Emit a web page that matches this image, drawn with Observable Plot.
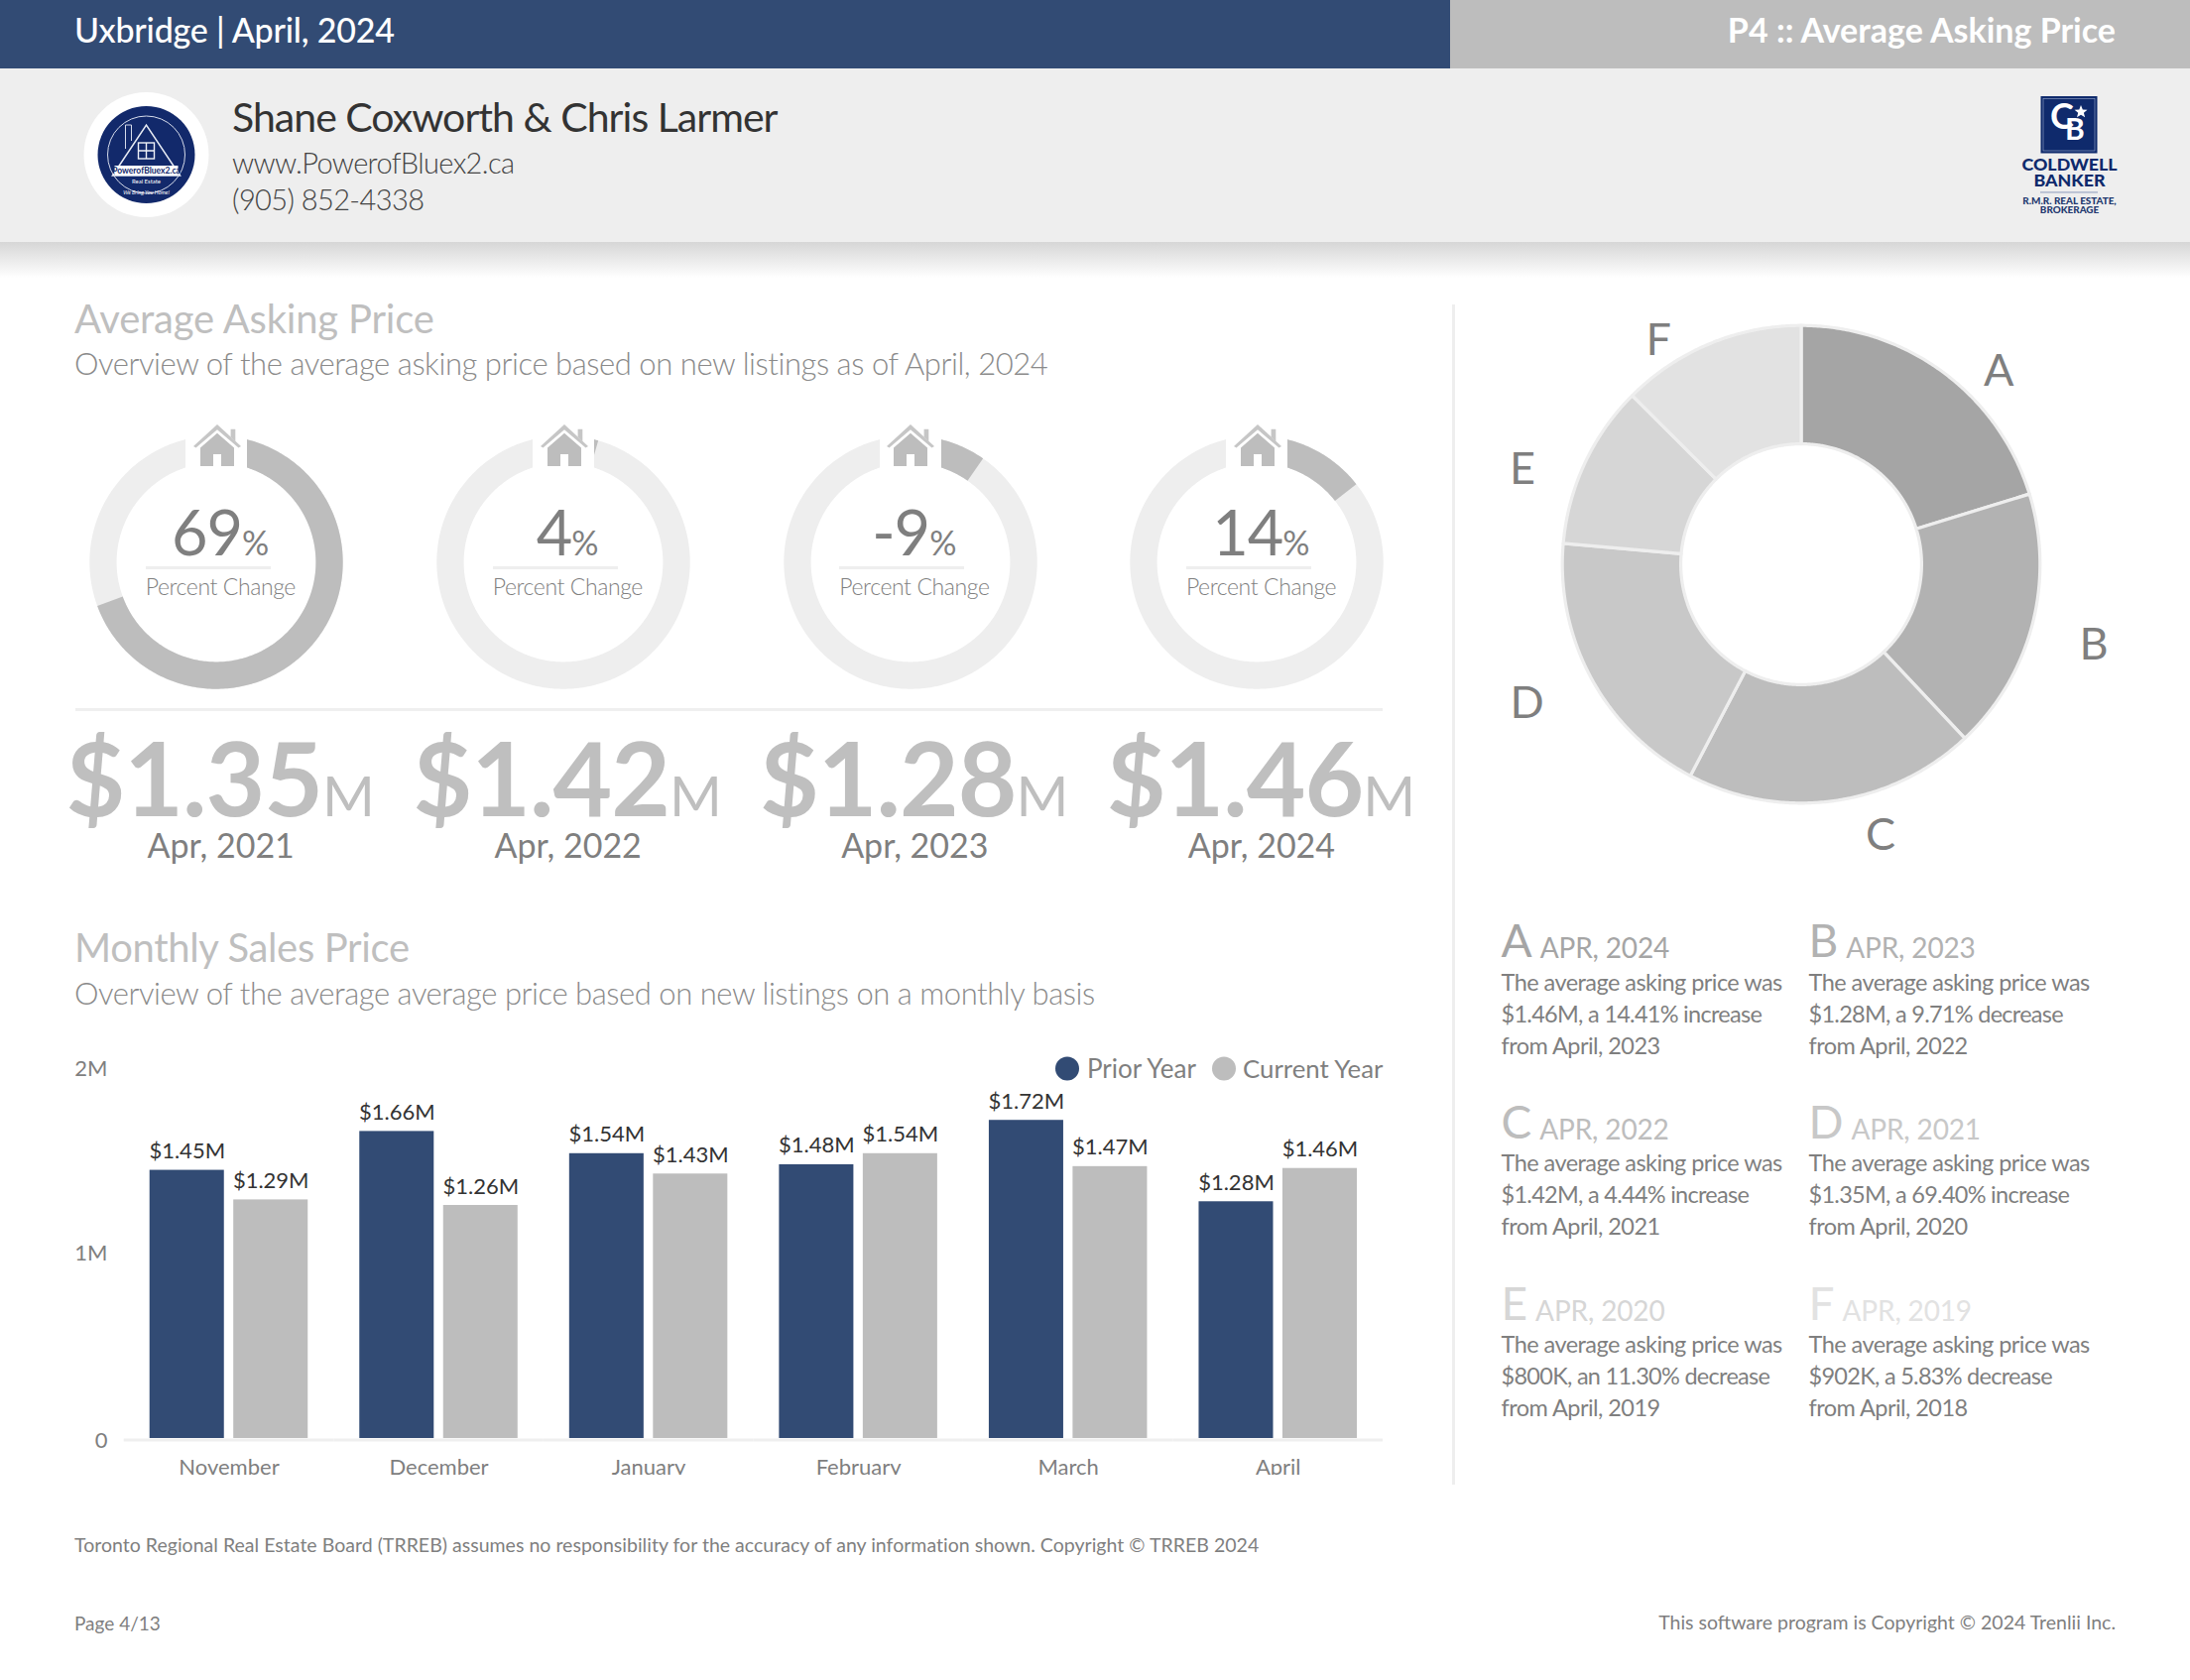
<!DOCTYPE html>
<html>
<head>
<meta charset="utf-8">
<script src="https://cdn.jsdelivr.net/npm/d3@7"></script>
<script src="https://cdn.jsdelivr.net/npm/@observablehq/plot@0.6"></script>
<style>
html,body{margin:0;padding:0;background:#fff;width:2208px;height:1694px;overflow:hidden}
#page{position:relative;width:2208px;height:1694px;overflow:hidden;font-family:Lato,sans-serif;color:#7f7f7f}
.t{position:absolute;line-height:0;white-space:nowrap}
.box{position:absolute}
.plotwrap{position:absolute}
.plotwrap svg{background:transparent;display:block;font-family:Lato,sans-serif}
</style>
</head>
<body>
<div id="page"></div>
<script>
// ---- data ----
const months = ["November","December","January","February","March","April"];
const priorYear = [1.45,1.66,1.54,1.48,1.72,1.28];
const currentYear = [1.29,1.26,1.43,1.54,1.47,1.46];
const seriesNames = ["Prior Year","Current Year"];
const seriesColors = ["#324b74","#bdbdbd"];

const ringChange = [69.40,4.44,9.71,14.41];
const ringPercentLabels = ["69","4","-9","14"];
const ringPrices = ["$1.35","$1.42","$1.28","$1.46"];
const ringDates = ["Apr, 2021","Apr, 2022","Apr, 2023","Apr, 2024"];

const pieLetters = ["A","B","C","D","E","F"];
const pieValues = [1.46,1.28,1.42,1.35,0.80,0.902];
const pieColors = ["#a5a5a5","#b2b2b2","#bdbdbd","#c8c8c8","#d6d6d6","#e2e2e2"];
const pieDates = ["APR, 2024","APR, 2023","APR, 2022","APR, 2021","APR, 2020","APR, 2019"];
const pieLine2 = ["$1.46M, a 14.41% increase","$1.28M, a 9.71% decrease","$1.42M, a 4.44% increase","$1.35M, a 69.40% increase","$800K, an 11.30% decrease","$902K, a 5.83% decrease"];
const pieLine3 = ["from April, 2023","from April, 2022","from April, 2021","from April, 2020","from April, 2019","from April, 2018"];

// ---- helpers ----
const page = document.getElementById("page");
function txt(html,x,base,size,color,opts={}){
  const d=document.createElement("div");
  d.className="t";
  d.innerHTML=html;
  d.style.fontSize=size+"px";
  d.style.color=color;
  d.style.top=(base-0.387*size)+"px";
  if(opts.weight)d.style.fontWeight=opts.weight;
  if(opts.ls!=null)d.style.letterSpacing=opts.ls+"px";
  if(opts.anchor==="end"){d.style.right=(2208-x)+"px";}
  else if(opts.anchor==="middle"){d.style.left=x+"px";d.style.transform="translateX(-50%)";}
  else d.style.left=x+"px";
  page.appendChild(d);
  return d;
}
function box(x,y,w,h,bg){
  const d=document.createElement("div");
  d.className="box";
  d.style.cssText+=`left:${x}px;top:${y}px;width:${w}px;height:${h}px;background:${bg}`;
  page.appendChild(d);
  return d;
}
function place(node,x,y){
  const w=document.createElement("div");
  w.className="plotwrap";
  w.style.left=x+"px";w.style.top=y+"px";
  w.appendChild(node);
  page.appendChild(w);
}
function arcRows(key,f0,f1,r0,r1,step){
  const rows=[];
  const n=Math.max(2,Math.ceil((f1-f0)*360/step));
  for(let i=0;i<=n;i++){
    const a=(f0+(f1-f0)*i/n)*2*Math.PI;
    rows.push({key,x1:r0*Math.sin(a),y1:r0*Math.cos(a),x2:r1*Math.sin(a),y2:r1*Math.cos(a)});
  }
  return rows;
}

// ---- header ----
box(0,0,1462,68.5,"#324b74");
box(1462,0,746,68.5,"#bdbdbd");
box(0,68.5,2208,175,"#eeeeee");
const sh=box(0,243.5,2208,36,"#fff");
sh.style.background="linear-gradient(#d6d6d6,#ffffff)";
txt("Uxbridge | April, 2024",75,43,34,"#fff",{weight:500,ls:-0.2});
txt("P4 :: Average Asking Price",2133,43,34,"#fff",{weight:700,anchor:"end"});
txt("Shane Coxworth &amp; Chris Larmer",234,134,41,"#333",{ls:-0.97});
txt("www.PowerofBluex2.ca",234,175,29,"#444",{weight:300,ls:-0.63});
txt("(905) 852-4338",234,212,29,"#444",{weight:300,ls:-0.6});

const logos=document.createElement("div");
logos.innerHTML=`
<svg class="box" style="left:80px;top:90px" width="135" height="135" viewBox="-67.5 -66 135 135">
 <circle r="63" fill="#fff"/>
 <circle r="49" fill="#12296b"/>
 <circle r="39" fill="none" stroke="#d5dbea" stroke-width="1"/>
 <path d="M-34 21 L0 -30 L34 21 Z" fill="#12296b" stroke="#e8ecf4" stroke-width="1.5"/>
 <path d="M-21 -6 V-30 H-15 V-14" fill="none" stroke="#d5dbea" stroke-width="1"/>
 <g stroke="#eef1f7" stroke-width="1.4" fill="none"><rect x="-8" y="-12" width="16" height="16"/><path d="M0 -12V4M-8 -4H8"/></g>
 <rect x="-32" y="11" width="64" height="10" fill="#fff"/>
 <text y="19" text-anchor="middle" font-size="8.5" font-weight="700" fill="#12296b">PowerofBluex2.ca</text>
 <text y="29" text-anchor="middle" font-size="6" fill="#fff">Real Estate</text>
 <text y="40" text-anchor="middle" font-size="5.5" font-style="italic" fill="#fff">We Bring You Home!</text>
</svg>
<svg class="box" style="left:2030px;top:90px" width="115" height="130" viewBox="2030 90 115 130" font-family="Lato" text-anchor="middle">
 <rect x="2057.5" y="97" width="57" height="57.5" fill="#0f2a6c"/>
 <rect x="2060" y="99.5" width="52" height="52.5" fill="none" stroke="#8a9bc1" stroke-width="0.7"/>
 <text x="2079" y="130" font-size="36" font-weight="700" fill="#fff">C</text>
 <text x="2092" y="141" font-size="30" font-weight="700" fill="#fff">B</text>
 <path d="M2098 106l1.8 4.4 4.7.3-3.6 3 1.2 4.6-4.1-2.5-4 2.5 1.2-4.6-3.6-3 4.7-.3z" fill="#fff"/>
 <text x="2086.5" y="172" font-size="17.8" font-weight="900" fill="#0f2a6c">COLDWELL</text>
 <text x="2086.5" y="188" font-size="17.8" font-weight="900" fill="#0f2a6c">BANKER</text>
 <rect x="2057" y="193.5" width="58" height="0.9" fill="#7f8fb5"/>
 <text x="2086.5" y="205.5" font-size="9.9" font-weight="900" fill="#23396f">R.M.R. REAL ESTATE,</text>
 <text x="2086.5" y="214.5" font-size="9.9" font-weight="900" fill="#23396f">BROKERAGE</text>
</svg>`;
while(logos.firstChild)page.appendChild(logos.firstChild);

// ---- section headings ----
txt("Average Asking Price",75,336.5,40,"#bfbfbf",{ls:-0.2});
txt("Overview of the average asking price based on new listings as of April, 2024",75,378,31,"#8a8a8a",{weight:300,ls:-0.44});
txt("Monthly Sales Price",75,970.5,40,"#bfbfbf",{ls:-0.35});
txt("Overview of the average average price based on new listings on a monthly basis",75,1013,31,"#8a8a8a",{weight:300,ls:-0.45});
box(1463.5,307,3,1190,"#eeeeee");
box(75.5,713.5,1318.5,3,"#efefef");

// ---- ring gauges ----
const ringX=[218.2,568.2,917.8,1267.4];
const ringCY=567, ringOuter=127.7, ringInner=100.4;
ringChange.forEach((v,i)=>{
  const half=140;
  const dom=half/ringOuter;
  const track=arcRows("track",0,1,ringInner/ringOuter,1,1);
  const prog=arcRows("value",0,v/100,ringInner/ringOuter,1,1);
  const p=Plot.plot({
    width:half*2,height:half*2,margin:0,
    x:{domain:[-dom,dom],axis:null},y:{domain:[-dom,dom],axis:null},
    color:{domain:["track","value"],range:["#eeeeee","#bdbdbd"]},
    marks:[
      Plot.area(track,{x1:"x1",y1:"y1",x2:"x2",y2:"y2",z:"key",fill:"key"}),
      Plot.area(prog,{x1:"x1",y1:"y1",x2:"x2",y2:"y2",z:"key",fill:"key"})
    ]
  });
  place(p,ringX[i]-half,ringCY-half);
  const cx=ringX[i];
  box(cx-31,428,62,45,"#fff");
  const h=document.createElement("div");
  h.innerHTML=`<svg class="box" style="left:${cx-25.5}px;top:426px" width="52" height="46" viewBox="-26 -2 52 46">
    <path d="M0 0L24 22 21.5 23.5 0 5.2-21.5 23.5-24 22Z" fill="#c6c6c6"/>
    <path d="M13.6 4.7H18.3V17L13.6 12.6Z" fill="#c6c6c6"/>
    <path d="M0 8.7L17 23.5V42H4V30H-4V42H-17V23.5Z" fill="#bdbdbd"/></svg>`;
  page.appendChild(h.firstChild);
  txt(`<span style="font-size:63px;letter-spacing:-1px">${ringPercentLabels[i]}</span><span style="font-size:34px">%</span>`,cx+4,560,62,"#7f7f7f",{anchor:"middle"});
  box(cx-71.5,571,126,3,"#eeeeee");
  txt("Percent Change",cx-71.5,600,23,"#7f7f7f",{weight:300,ls:-0.4});
  txt(`<span style="font-size:103px;font-weight:700;letter-spacing:-1px">${ringPrices[i]}</span><span style="font-size:57px">M</span>`,cx+4,822.5,101,"#bfbfbf",{anchor:"middle"});
  txt(ringDates[i],cx+4.5,865,34,"#7f7f7f",{anchor:"middle"});
});

// ---- grouped bars ----
const barRows=months.flatMap((m,i)=>[
  {month:m,series:seriesNames[0],value:priorYear[i]},
  {month:m,series:seriesNames[1],value:currentYear[i]}
]);
const bars=Plot.plot({
  width:1354,height:447,
  marginLeft:84.7,marginRight:0,marginTop:37,marginBottom:37,
  style:{fontFamily:"Lato,sans-serif",background:"transparent",overflow:"hidden"},
  fx:{domain:months,padding:0,label:null,round:false},
  x:{domain:seriesNames,paddingInner:0.112,paddingOuter:0.308,axis:null,round:false},
  y:{domain:[0,2],label:null},
  color:{domain:seriesNames,range:seriesColors},
  marks:[
    Plot.ruleY([0],{stroke:"#efefef",strokeWidth:3,dy:1.5}),
    Plot.barY(barRows,{fx:"month",x:"series",y:"value",fill:"series"}),
    Plot.text(barRows,{fx:"month",x:"series",y:"value",text:d=>"$"+d.value.toFixed(2)+"M",dy:-12,lineAnchor:"bottom",fontSize:22,fill:"#333"}),
    Plot.axisY({ticks:[1,2],tickFormat:d=>d+"M",tickSize:0,tickPadding:16.8,fontSize:22,color:"#7f7f7f",label:null}),
    Plot.axisY({ticks:[0],tickFormat:()=>"0",tickSize:0,tickPadding:16.8,fontSize:22,color:"#7f7f7f",label:null,dy:2.5}),
    Plot.axisFx({anchor:"bottom",tickSize:0,tickPadding:20.6,fontSize:22,color:"#7f7f7f",label:null})
  ]
});
place(bars,40,1040);

// legend
const lg=document.createElement("div");
lg.innerHTML=`<svg class="box" style="left:1060px;top:1062px" width="190" height="30"><circle cx="16" cy="15.5" r="12" fill="${seriesColors[0]}"/><circle cx="174" cy="15.5" r="12" fill="${seriesColors[1]}"/></svg>`;
page.appendChild(lg.firstChild);
txt(seriesNames[0],1096,1087,26,"#7f7f7f");
txt(seriesNames[1],1253,1087,25.8,"#7f7f7f");

// ---- share donut ----
const total=d3.sum(pieValues);
let acc=0;
const sliceRows=pieValues.flatMap((v,i)=>{
  const f0=acc/total; acc+=v; const f1=acc/total;
  return arcRows(pieLetters[i],f0,f1,121.4/240.8,1,0.5);
});
const piePad=250, pieDom=piePad/240.8;
const pie=Plot.plot({
  width:piePad*2,height:piePad*2,margin:0,
  x:{domain:[-pieDom,pieDom],axis:null},y:{domain:[-pieDom,pieDom],axis:null},
  color:{domain:pieLetters,range:pieColors},
  marks:[Plot.area(sliceRows,{x1:"x1",y1:"y1",x2:"x2",y2:"y2",z:"key",fill:"key",stroke:"#eeeeee",strokeWidth:3.2})]
});
place(pie,1815.5-piePad,568.5-piePad);
const pieLabelPos=[[2000,389],[2096.5,665],[1881,857],[1522.6,724.4],[1522,488.4],[1659.6,358]];
pieLetters.forEach((l,i)=>txt(l,pieLabelPos[i][0],pieLabelPos[i][1],45,"#7f7f7f"));

// ---- notes ----
const noteX=[1513.5,1823.5], headBase=[966,1149,1332], bodyBase=[966,1148,1331];
pieLetters.forEach((l,i)=>{
  const x=noteX[i%2], r=Math.floor(i/2), b=headBase[r], t=bodyBase[r];
  const c=pieColors[i];
  const a=txt(`<span style="font-size:46px">${l}</span>`,x,b,46,c);
  const w=a.getBoundingClientRect().width;
  txt(pieDates[i],x+w+8,b,28,c,{ls:-0.15});
  txt("The average asking price was",x,t+33,23.5,"#7f7f7f",{ls:-0.55});
  txt(pieLine2[i],x,t+65.5,23.5,"#7f7f7f",{ls:-0.72});
  txt(pieLine3[i],x,t+97.5,23.5,"#7f7f7f",{ls:-0.55});
});

// ---- footer ----
txt("Toronto Regional Real Estate Board (TRREB) assumes no responsibility for the accuracy of any information shown. Copyright © TRREB 2024",75,1565.5,19.5,"#7f7f7f",{ls:0.02});
txt("Page 4/13",75,1644,19,"#7f7f7f");
txt("This software program is Copyright © 2024 Trenlii Inc.",2133,1644,19.5,"#7f7f7f",{anchor:"end",ls:0});
</script>
</body>
</html>
